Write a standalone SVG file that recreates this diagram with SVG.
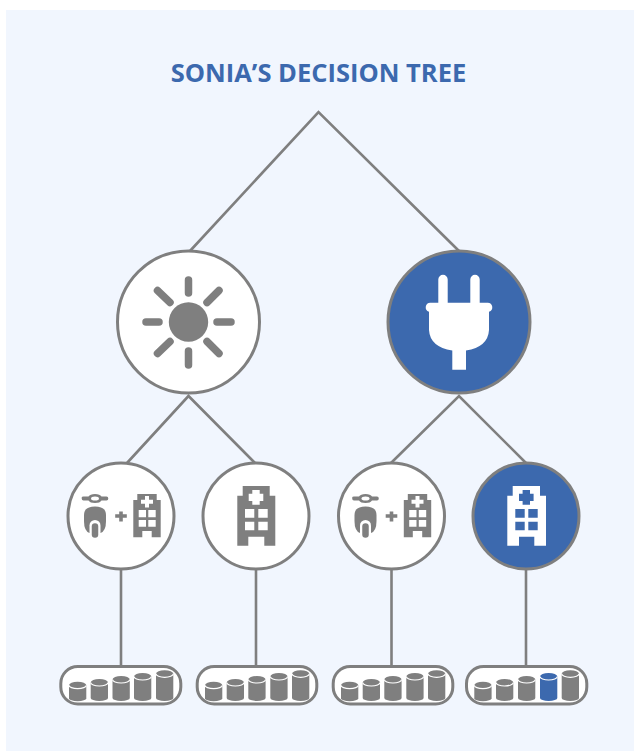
<svg xmlns="http://www.w3.org/2000/svg" width="634" height="751" viewBox="0 0 634 751">
<style>
.ln{stroke:#7f7f7f;stroke-width:2.6;fill:none}
.c{fill:#fff;stroke:#7f7f7f;stroke-width:3}
.b{fill:#3c69ae;stroke:#7f7f7f;stroke-width:3}
.g{fill:#7f7f7f}
.w{fill:#fff}
.tray{fill:#fff;stroke:#7f7f7f;stroke-width:3}
.rim{fill:none;stroke:#fff;stroke-width:1.2}
.ray{stroke:#7f7f7f;stroke-width:7.5;stroke-linecap:round;fill:none}
.title{font:700 25.5px "Open Sans","Noto Sans",sans-serif;fill:#3c69ae}
</style>
<defs>
<g id="cy1"><path d="M0,3.500a8.650,3.500 0 0 1 17.300,0V16.500a8.650,3 0 0 1 -17.300,0Z"/><path class="rim" d="M0,3.500a8.650,3.500 0 0 0 17.300,0"/></g>
<g id="cy2"><path d="M0,3.500a8.650,3.500 0 0 1 17.300,0V19a8.650,3 0 0 1 -17.300,0Z"/><path class="rim" d="M0,3.500a8.650,3.500 0 0 0 17.300,0"/></g>
<g id="cy3"><path d="M0,3.500a8.650,3.500 0 0 1 17.300,0V22a8.650,3 0 0 1 -17.300,0Z"/><path class="rim" d="M0,3.500a8.650,3.500 0 0 0 17.300,0"/></g>
<g id="cy4"><path d="M0,3.500a8.650,3.500 0 0 1 17.300,0V25a8.650,3 0 0 1 -17.300,0Z"/><path class="rim" d="M0,3.500a8.650,3.500 0 0 0 17.300,0"/></g>
<g id="cy5"><path d="M0,3.500a8.650,3.500 0 0 1 17.300,0V27.700a8.650,3 0 0 1 -17.300,0Z"/><path class="rim" d="M0,3.500a8.650,3.500 0 0 0 17.300,0"/></g>
<g id="combo">
<path class="g" d="M-39.300,-18.500Q-39.300,-19.500 -37.500,-19.500H-32.500Q-31,-22 -26,-22Q-21,-22 -19.500,-19.500H-14.500Q-12.700,-19.500 -12.700,-17.500Q-12.700,-15.500 -14.500,-15.500H-19.500Q-21,-13 -26,-13Q-31,-13 -32.500,-15.500H-37.500Q-39.300,-15.500 -39.300,-17.500Z"/>
<ellipse class="w" cx="-26" cy="-17.500" rx="4" ry="2"/>
<path class="g" d="M-37,5V-1Q-37,-9.500 -26,-9.500Q-15,-9.500 -15,-1V5Q-15,15 -20.500,17H-31.500Q-37,15 -37,5Z"/>
<path d="M-26,9.500V18.500" stroke="#fff" stroke-width="11" stroke-linecap="round" fill="none"/>
<path d="M-26,10.500V18.500" stroke="#7f7f7f" stroke-width="6.500" stroke-linecap="round" fill="none"/>
<path class="g" d="M-1.800,-4.500H1.800V-1.800H5.800V1.800H1.800V5.500H-1.800V1.800H-5.800V-1.800H-1.800Z"/>
<path class="g" fill-rule="evenodd" d="M12.300,21.300V-16H16.300V-22H35.700V-16H39.700V21.300H30.700V15H21.300V21.300Z M24,-20V-16.300H20V-12.300H24V-8.500H28V-12.300H32V-16.300H28V-20Z M17.700,-6V1.300H25V-6Z M27.300,-6V1.300H34.700V-6Z M17.700,4V10.700H25V4Z M27.300,4V10.700H34.700V4Z"/>
</g>
</defs>

<rect x="6" y="10" width="628" height="741" fill="#f1f6fe"/>
<text class="title" x="318.500" y="82" text-anchor="middle">SONIA’S DECISION TREE</text>

<g id="connectors">
<path class="ln" d="M190,251L318.500,112L459,251"/>
<path class="ln" d="M127,463L188.500,396L255,463"/>
<path class="ln" d="M391,463L459,396L526,463"/>
<path class="ln" d="M121,568V667M256,568V667M391.500,568V667M526,568V667"/>
</g>

<g id="node-sun">
<circle class="c" cx="188.500" cy="322" r="71"/>
<circle class="g" cx="188.500" cy="322" r="19.700"/>
<path class="ray" d="M188.500,280V293M188.500,351V365M146,322H159M217,322H231M157.500,290.500L170,302.500M219,290.500L207,302.500M170,341.500L157.500,353.500M207,341.500L219,353.500"/>
</g>

<g id="node-plug">
<circle class="b" cx="459" cy="322" r="71"/>
<path class="w" d="M438.300,279.500a4.700,4.700 0 0 1 9.400,0V302.700H470.300V279.500a4.700,4.700 0 0 1 9.400,0V302.700H487.500a4.600,4.600 0 0 1 1.500,9V330Q488,347 466,350.500V369.700H452.300V350.500Q430,347 429,330V311.700a4.600,4.600 0 0 1 1.500,-9H438.300Z"/>
</g>

<g id="node-scooter-hospital-1">
<circle class="c" cx="121" cy="516" r="53"/>
<use href="#combo" transform="translate(121,516)"/>
</g>

<g id="node-hospital-1">
<circle class="c" cx="256" cy="516" r="53"/>
<path class="g" fill-rule="evenodd" d="M237.300,545.700V495.700H242.700V486H269.700V495.700H275.300V545.700H264.300V536.700H248.300V545.700Z M252.300,490V493.700H248.700V501H252.300V504.700H259.700V501H263.300V493.700H259.700V490Z M245,509V517.700H254.300V509Z M258.300,509V517.700H267.700V509Z M245,521.700V530.300H254.300V521.700Z M258.300,521.700V530.300H267.700V521.700Z"/>
</g>

<g id="node-scooter-hospital-2">
<circle class="c" cx="391.500" cy="516" r="53"/>
<use href="#combo" transform="translate(391.500,516)"/>
</g>

<g id="node-hospital-2">
<circle class="b" cx="526" cy="516" r="53"/>
<path class="w" fill-rule="evenodd" d="M507.300,545.700V495.700H512.700V486H540V495.700H546V545.700H534.300V536.700H519V545.700Z M522.600,490V493.700H519V501H522.600V504.700H530V501H533.600V493.700H530V490Z M515.300,509V517.700H524.700V509Z M528.300,509V517.700H537.700V509Z M515.300,521.700V530.300H524.700V521.700Z M528.300,521.700V530.300H537.700V521.700Z"/>
</g>

<g id="outcome-1" class="g">
<rect class="tray" x="60.800" y="666.500" width="120" height="37.500" rx="17"/>
<use href="#cy1" x="69" y="681.700"/><use href="#cy2" x="90.700" y="679"/><use href="#cy3" x="112.500" y="676"/><use href="#cy4" x="134" y="673"/><use href="#cy5" x="156" y="670.300"/>
</g>
<g id="outcome-2" class="g">
<rect class="tray" x="197.200" y="666.500" width="119.600" height="37.500" rx="17"/>
<use href="#cy1" x="205" y="681.700"/><use href="#cy2" x="226.700" y="679"/><use href="#cy3" x="248.300" y="676"/><use href="#cy4" x="270.300" y="673"/><use href="#cy5" x="292" y="670.300"/>
</g>
<g id="outcome-3" class="g">
<rect class="tray" x="333.200" y="666.500" width="119.600" height="37.500" rx="17"/>
<use href="#cy1" x="341" y="681.700"/><use href="#cy2" x="362.700" y="679"/><use href="#cy3" x="384.300" y="676"/><use href="#cy4" x="406.300" y="673"/><use href="#cy5" x="428" y="670.300"/>
</g>
<g id="outcome-4" class="g">
<rect class="tray" x="466.500" y="666.500" width="120.300" height="37.500" rx="17"/>
<use href="#cy1" x="474.300" y="681.700"/><use href="#cy2" x="496" y="679"/><use href="#cy3" x="518" y="676"/><use href="#cy4" x="540" y="673" style="fill:#3c69ae"/><use href="#cy5" x="561.700" y="670.300"/>
</g>
</svg>
